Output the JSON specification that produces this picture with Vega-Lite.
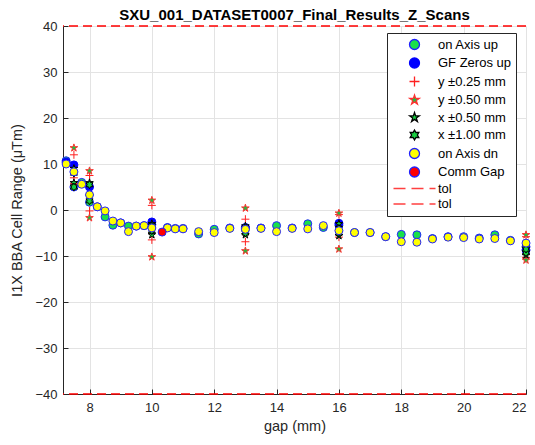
{
  "$schema": "https://vega.github.io/schema/vega-lite/v6.json",
  "width": 463,
  "height": 368,
  "autosize": {"type": "none"},
  "padding": {"left": 63, "top": 26, "right": 9, "bottom": 51},
  "background": "white",
  "title": {"text": "SXU_001_DATASET0007_Final_Results_Z_Scans", "font": "Liberation Sans", "fontSize": 15, "fontWeight": "bold", "color": "#000000", "anchor": "middle", "offset": -3},
  "config": {
    "view": {"stroke": null},
    "font": "Liberation Sans",
    "axis": {
      "gridColor": "#e3e3e3", "gridWidth": 1, "gridOpacity": 1,
      "domainColor": "#262626", "domainWidth": 1,
      "tickColor": "#262626", "tickSize": -5,
      "labelColor": "#262626", "labelFontSize": 13, "labelFont": "Liberation Sans",
      "titleColor": "#262626", "titleFontSize": 14.5, "titleFontWeight": "normal", "titleFont": "Liberation Sans"
    }
  },
  "datasets": {
    "pts": [
      {"s": "on Axis up", "g": 7.25, "v": 10.7}, {"s": "on Axis up", "g": 7.5, "v": 5.0}, {"s": "on Axis up", "g": 7.75, "v": 6.0}, {"s": "on Axis up", "g": 8, "v": 1.7}, {"s": "on Axis up", "g": 8.25, "v": 0.7}, {"s": "on Axis up", "g": 8.5, "v": -1.5}, {"s": "on Axis up", "g": 8.75, "v": -3.3}, {"s": "on Axis up", "g": 9, "v": -2.8}, {"s": "on Axis up", "g": 9.25, "v": -3.5}, {"s": "on Axis up", "g": 9.5, "v": -3.5}, {"s": "on Axis up", "g": 9.75, "v": -3.4}, {"s": "on Axis up", "g": 10, "v": -3.2}, {"s": "on Axis up", "g": 10.5, "v": -3.8}, {"s": "on Axis up", "g": 10.75, "v": -4.0}, {"s": "on Axis up", "g": 11, "v": -4.0}, {"s": "on Axis up", "g": 11.5, "v": -5.2}, {"s": "on Axis up", "g": 12, "v": -4.2}, {"s": "on Axis up", "g": 12.5, "v": -3.9}, {"s": "on Axis up", "g": 13, "v": -4.0}, {"s": "on Axis up", "g": 13.5, "v": -3.9}, {"s": "on Axis up", "g": 14, "v": -3.4}, {"s": "on Axis up", "g": 14.5, "v": -3.9}, {"s": "on Axis up", "g": 15, "v": -3.0}, {"s": "on Axis up", "g": 15.5, "v": -3.8}, {"s": "on Axis up", "g": 16, "v": -3.3}, {"s": "on Axis up", "g": 16.5, "v": -4.9}, {"s": "on Axis up", "g": 17, "v": -4.9}, {"s": "on Axis up", "g": 17.5, "v": -5.8}, {"s": "on Axis up", "g": 18, "v": -5.3}, {"s": "on Axis up", "g": 18.5, "v": -5.4}, {"s": "on Axis up", "g": 19, "v": -6.2}, {"s": "on Axis up", "g": 19.5, "v": -5.8}, {"s": "on Axis up", "g": 20, "v": -5.8}, {"s": "on Axis up", "g": 20.5, "v": -6.1}, {"s": "on Axis up", "g": 21, "v": -5.4}, {"s": "on Axis up", "g": 21.5, "v": -6.6}, {"s": "on Axis up", "g": 22, "v": -8.0},
      {"s": "GF Zeros up", "g": 7.25, "v": 10.4}, {"s": "GF Zeros up", "g": 7.5, "v": 9.8}, {"s": "GF Zeros up", "g": 8, "v": 5.0}, {"s": "GF Zeros up", "g": 10, "v": -2.6}, {"s": "GF Zeros up", "g": 13, "v": -3.8}, {"s": "GF Zeros up", "g": 16, "v": -2.9}, {"s": "GF Zeros up", "g": 22, "v": -8.7},
      {"s": "y ±0.25 mm", "g": 7.5, "v": 12.0}, {"s": "y ±0.25 mm", "g": 7.5, "v": 7.0}, {"s": "y ±0.25 mm", "g": 8, "v": 7.5}, {"s": "y ±0.25 mm", "g": 8, "v": -0.2}, {"s": "y ±0.25 mm", "g": 10, "v": 1.0}, {"s": "y ±0.25 mm", "g": 10, "v": -6.5}, {"s": "y ±0.25 mm", "g": 13, "v": -2.0}, {"s": "y ±0.25 mm", "g": 13, "v": -6.9}, {"s": "y ±0.25 mm", "g": 16, "v": -1.0}, {"s": "y ±0.25 mm", "g": 16, "v": -5.9}, {"s": "y ±0.25 mm", "g": 22, "v": -5.8}, {"s": "y ±0.25 mm", "g": 22, "v": -10.3},
      {"s": "y ±0.50 mm", "g": 7.5, "v": 13.5}, {"s": "y ±0.50 mm", "g": 7.5, "v": 5.5}, {"s": "y ±0.50 mm", "g": 8, "v": 8.5}, {"s": "y ±0.50 mm", "g": 8, "v": -1.7}, {"s": "y ±0.50 mm", "g": 10, "v": 2.1}, {"s": "y ±0.50 mm", "g": 10, "v": -10.2}, {"s": "y ±0.50 mm", "g": 13, "v": 0.4}, {"s": "y ±0.50 mm", "g": 13, "v": -8.9}, {"s": "y ±0.50 mm", "g": 16, "v": -0.7}, {"s": "y ±0.50 mm", "g": 16, "v": -8.5}, {"s": "y ±0.50 mm", "g": 22, "v": -5.4}, {"s": "y ±0.50 mm", "g": 22, "v": -10.9},
      {"s": "x ±0.50 mm", "g": 7.5, "v": 5.9}, {"s": "x ±0.50 mm", "g": 7.5, "v": 9.0}, {"s": "x ±0.50 mm", "g": 8, "v": 5.9}, {"s": "x ±0.50 mm", "g": 8, "v": 3.0}, {"s": "x ±0.50 mm", "g": 10, "v": -5.4}, {"s": "x ±0.50 mm", "g": 10, "v": -3.0}, {"s": "x ±0.50 mm", "g": 13, "v": -5.4}, {"s": "x ±0.50 mm", "g": 13, "v": -3.5}, {"s": "x ±0.50 mm", "g": 16, "v": -5.6}, {"s": "x ±0.50 mm", "g": 16, "v": -3.0}, {"s": "x ±0.50 mm", "g": 22, "v": -9.8}, {"s": "x ±0.50 mm", "g": 22, "v": -8.0},
      {"s": "x ±1.00 mm", "g": 7.5, "v": 5.0}, {"s": "x ±1.00 mm", "g": 7.5, "v": 8.0}, {"s": "x ±1.00 mm", "g": 8, "v": 2.0}, {"s": "x ±1.00 mm", "g": 8, "v": 5.5}, {"s": "x ±1.00 mm", "g": 10, "v": -3.5}, {"s": "x ±1.00 mm", "g": 10, "v": -4.5}, {"s": "x ±1.00 mm", "g": 13, "v": -5.0}, {"s": "x ±1.00 mm", "g": 13, "v": -4.0}, {"s": "x ±1.00 mm", "g": 16, "v": -4.0}, {"s": "x ±1.00 mm", "g": 16, "v": -5.0}, {"s": "x ±1.00 mm", "g": 22, "v": -9.3}, {"s": "x ±1.00 mm", "g": 22, "v": -8.5},
      {"s": "on Axis dn", "g": 7.25, "v": 10.0}, {"s": "on Axis dn", "g": 7.5, "v": 8.3}, {"s": "on Axis dn", "g": 7.75, "v": 5.6}, {"s": "on Axis dn", "g": 8, "v": 3.3}, {"s": "on Axis dn", "g": 8.25, "v": 0.7}, {"s": "on Axis dn", "g": 8.5, "v": -0.2}, {"s": "on Axis dn", "g": 8.75, "v": -2.4}, {"s": "on Axis dn", "g": 9, "v": -2.8}, {"s": "on Axis dn", "g": 9.25, "v": -4.7}, {"s": "on Axis dn", "g": 9.5, "v": -3.5}, {"s": "on Axis dn", "g": 9.75, "v": -3.4}, {"s": "on Axis dn", "g": 10, "v": -3.9}, {"s": "on Axis dn", "g": 10.5, "v": -3.9}, {"s": "on Axis dn", "g": 10.75, "v": -4.1}, {"s": "on Axis dn", "g": 11, "v": -4.1}, {"s": "on Axis dn", "g": 11.5, "v": -4.7}, {"s": "on Axis dn", "g": 12, "v": -4.9}, {"s": "on Axis dn", "g": 12.5, "v": -4.0}, {"s": "on Axis dn", "g": 13, "v": -4.2}, {"s": "on Axis dn", "g": 13.5, "v": -4.0}, {"s": "on Axis dn", "g": 14, "v": -4.7}, {"s": "on Axis dn", "g": 14.5, "v": -4.0}, {"s": "on Axis dn", "g": 15, "v": -4.1}, {"s": "on Axis dn", "g": 15.5, "v": -3.4}, {"s": "on Axis dn", "g": 16, "v": -4.5}, {"s": "on Axis dn", "g": 16.5, "v": -4.9}, {"s": "on Axis dn", "g": 17, "v": -4.9}, {"s": "on Axis dn", "g": 17.5, "v": -5.8}, {"s": "on Axis dn", "g": 18, "v": -6.9}, {"s": "on Axis dn", "g": 18.5, "v": -7.0}, {"s": "on Axis dn", "g": 19, "v": -6.3}, {"s": "on Axis dn", "g": 19.5, "v": -5.9}, {"s": "on Axis dn", "g": 20, "v": -6.0}, {"s": "on Axis dn", "g": 20.5, "v": -6.3}, {"s": "on Axis dn", "g": 21, "v": -6.2}, {"s": "on Axis dn", "g": 21.5, "v": -6.7}, {"s": "on Axis dn", "g": 22, "v": -7.2},
      {"s": "Comm Gap", "g": 10.33, "v": -4.8}
    ],
    "tol": [{"t": 40}, {"t": -40}]
  },
  "layer": [
    {
      "data": {"name": "tol"},
      "mark": {"type": "rule", "color": "#ff0000", "strokeDash": [9, 5], "strokeWidth": 1.3},
      "encoding": {"y": {"field": "t", "type": "quantitative"}}
    },
    {
      "data": {"name": "pts"},
      "mark": {"type": "point", "filled": true, "opacity": 1, "size": 64, "strokeWidth": 1},
      "encoding": {
        "x": {"field": "g", "type": "quantitative", "scale": {"domain": [7.15, 22], "nice": false, "zero": false},
              "axis": {"values": [8, 10, 12, 14, 16, 18, 20, 22], "title": "gap (mm)", "labelPadding": 12, "titlePadding": 5}},
        "y": {"field": "v", "type": "quantitative", "scale": {"domain": [-40, 40], "nice": false},
              "axis": {"values": [-40, -30, -20, -10, 0, 10, 20, 30, 40], "title": "I1X BBA Cell Range (μTm)", "labelPadding": 11, "titlePadding": 10}},
        "shape": {"field": "s", "type": "nominal",
          "scale": {"domain": ["on Axis up", "GF Zeros up", "y ±0.25 mm", "y ±0.50 mm", "x ±0.50 mm", "x ±1.00 mm", "on Axis dn", "Comm Gap", "tol", "tol "],
                    "range": ["circle", "circle", "M-1,0L1,0M0,-1L0,1",
                              "M0,-1L0.225,-0.309L0.951,-0.309L0.363,0.118L0.588,0.809L0,0.382L-0.588,0.809L-0.363,0.118L-0.951,-0.309L-0.225,-0.309Z",
                              "M0,-1L0.225,-0.309L0.951,-0.309L0.363,0.118L0.588,0.809L0,0.382L-0.588,0.809L-0.363,0.118L-0.951,-0.309L-0.225,-0.309Z",
                              "M0,-1L0.289,-0.5L0.866,-0.5L0.577,0L0.866,0.5L0.289,0.5L0,1L-0.289,0.5L-0.866,0.5L-0.577,0L-0.866,-0.5L-0.289,-0.5Z",
                              "circle", "circle",
                              "M-4.2,0L-1.8,0M-0.6,0L1.8,0M3,0L4.2,0", "M-4.2,0L-1.8,0M-0.6,0L1.8,0M3,0L4.2,0"]},
          "legend": {"orient": "none", "legendX": 324, "legendY": 7, "title": null, "strokeColor": "#262626", "fillColor": "white", "padding": 5, "labelFontSize": 13, "labelColor": "#000000", "labelFont": "Liberation Sans", "symbolSize": 100, "symbolStrokeWidth": 1.3, "symbolOpacity": 1, "rowPadding": 1.5, "symbolOffset": 16, "labelOffset": 17, "cornerRadius": 0}},
        "fill": {"field": "s", "type": "nominal",
          "scale": {"domain": ["on Axis up", "GF Zeros up", "y ±0.25 mm", "y ±0.50 mm", "x ±0.50 mm", "x ±1.00 mm", "on Axis dn", "Comm Gap", "tol", "tol "],
                    "range": ["#19e04a", "#0000ff", "transparent", "#19c040", "#19d040", "#19d040", "#ffff00", "#ff0000", "transparent", "transparent"]}},
        "stroke": {"field": "s", "type": "nominal",
          "scale": {"domain": ["on Axis up", "GF Zeros up", "y ±0.25 mm", "y ±0.50 mm", "x ±0.50 mm", "x ±1.00 mm", "on Axis dn", "Comm Gap", "tol", "tol "],
                    "range": ["#2020ff", "#0000ff", "#ff2020", "#ff3030", "#000000", "#000000", "#2020ff", "#2020ff", "#ff4040", "#ff4040"]}}
      }
    }
  ]
}
